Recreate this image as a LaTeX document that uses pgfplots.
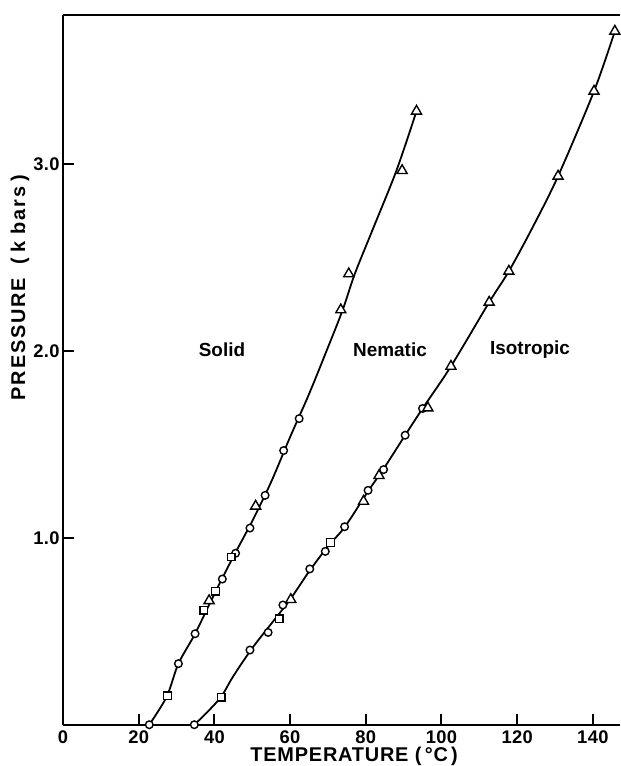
\documentclass[border=0pt]{standalone}
\usepackage{pgfplots}
\pgfplotsset{compat=1.18}
\usepackage{fontspec}
\setmainfont{Liberation Sans}
\newfontfamily\xlblfont[LetterSpace=4]{Liberation Sans}
\newfontfamily\ylblfont[LetterSpace=9]{Liberation Sans}
\newfontfamily\tkfont[LetterSpace=2]{Liberation Sans}
\begin{document}
\begin{tikzpicture}
\begin{axis}[
 name=ax,
 scale only axis,
 width=278.5bp, height=355bp,
 xmin=0, xmax=147.1, ymin=0, ymax=3.80,
 axis x line=box, axis y line=left,
 axis line style={-, line width=1pt},
 xtick={0,20,...,140}, ytick={1,2,3},
 xtick pos=bottom, ytick pos=left,
 tick align=inside,
 major tick length=5.5bp,
 tick style={line width=1pt, black},
 /pgf/number format/assume math mode=true,
 xticklabel style={inner sep=0.5bp, yshift=-2.5bp},
 yticklabel style={inner sep=1.5bp, /pgf/number format/.cd, fixed, fixed zerofill, precision=1},
 ticklabel style={font=\tkfont\fontsize{9.2}{11}\selectfont\bfseries},
 xlabel={TEMPERATURE (\,°C\,)},
 ylabel={PRESSURE\hspace{0.7em}(\hspace{0.25em}k bars\hspace{0.25em})},
 every axis x label/.style={at={(axis description cs:0.523,-0.0515)}, anchor=base, inner sep=0.3bp, font=\xlblfont\fontsize{10}{12}\selectfont\bfseries},
 every axis y label/.style={at={(axis description cs:-0.0772,0.616)}, rotate=90, anchor=center, inner sep=0.3bp, font=\ylblfont\fontsize{10}{12}\selectfont\bfseries},
 clip=false,
]
% fitted curves
\addplot[smooth, line width=0.9pt] coordinates {
 (22.8,0) (27.4,0.15) (30.5,0.327) (34.9,0.487) (40,0.70) (45,0.90)
 (50,1.09) (55,1.30) (60,1.54) (65,1.77) (70,2.02) (73.9,2.221) (77.1,2.414)
 (82,2.66) (88.1,2.967) (93.4,3.285)};
\addplot[smooth, line width=0.9pt] coordinates {
 (34.7,0) (38,0.065) (41.8,0.15) (45,0.26) (50,0.41) (55,0.54) (60,0.67)
 (65,0.82) (70,0.955) (74.5,1.06) (80.6,1.25) (84.7,1.37) (90.4,1.55) (95,1.693)
 (102.5,1.919) (112.6,2.262) (117.8,2.428) (124,2.66) (130.8,2.937) (140.3,3.392) (145.8,3.713)};
% circles
\addplot[only marks, mark=*, mark size=1.9bp, mark options={line width=0.7pt, fill=white, draw=black}] coordinates {
 (22.8,0) (30.5,0.327) (34.9,0.487) (42.1,0.78) (45.6,0.918) (49.4,1.053) (53.4,1.228) (58.3,1.468) (62.4,1.639)
 (34.7,0) (49.4,0.40) (54.2,0.494) (58.1,0.641) (65.2,0.834) (69.3,0.928) (74.4,1.06) (80.6,1.255) (84.7,1.366) (90.4,1.55) (95.0,1.693)};
% squares
\addplot[only marks, mark=square*, mark size=1.9bp, mark options={line width=0.7pt, fill=white, draw=black}] coordinates {
 (27.6,0.155) (37.2,0.614) (40.3,0.714) (44.4,0.898)
 (41.8,0.147) (57.1,0.568) (70.7,0.976)};
% triangles
\addplot[only marks, mark=triangle*, mark size=2.9bp, mark options={line width=0.7pt, fill=white, draw=black}] coordinates {
 (38.6,0.664) (50.9,1.17) (73.4,2.221) (75.5,2.414) (89.6,2.967) (93.4,3.285)
 (60.2,0.67) (79.4,1.196) (83.5,1.334) (96.4,1.696) (102.5,1.919) (112.6,2.262) (117.8,2.428) (130.8,2.937) (140.3,3.392) (145.8,3.713)};
\node[font=\fontsize{9.5}{11}\selectfont\bfseries] at (axis cs:42,2.01) {Solid};
\node[font=\fontsize{9.5}{11}\selectfont\bfseries] at (axis cs:86.4,2.01) {Nematic};
\node[font=\fontsize{9.5}{11}\selectfont\bfseries] at (axis cs:123.4,2.01) {Isotropic};
\end{axis}
\path ([xshift=-31.5bp,yshift=-20.5bp]ax.south west) rectangle ([yshift=7.5bp]ax.north east);
\end{tikzpicture}
\end{document}
